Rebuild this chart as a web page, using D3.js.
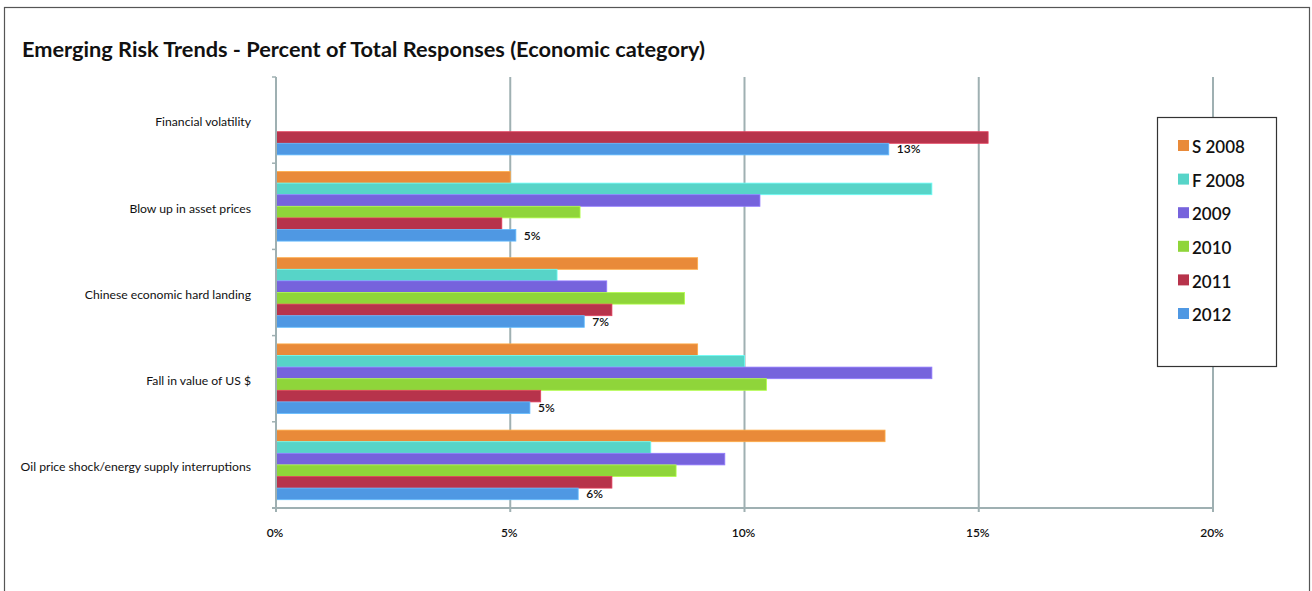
<!DOCTYPE html>
<html>
<head>
<meta charset="utf-8">
<script src="https://cdn.jsdelivr.net/npm/d3@7"></script>
<style>
  html, body { margin: 0; padding: 0; background: #fff; }
  svg { display: block; font-family: Lato, "Open Sans", sans-serif; }
</style>
</head>
<body>
<svg id="chart" width="1312" height="591"></svg>
<script>
// Risk categories, top to bottom
const categories = [
  "Financial volatility",
  "Blow up in asset prices",
  "Chinese economic hard landing",
  "Fall in value of US $",
  "Oil price shock/energy supply interruptions"
];

// Survey waves
const seriesNames = ["S 2008", "F 2008", "2009", "2010", "2011", "2012"];
const seriesColors = ["#E98A39", "#57D4C8", "#7663DC", "#8FD53A", "#B7334B", "#4F98E3"];

// Percent of total responses per wave (null = not asked that wave)
const s2008 = [null, 5.0, 9.0, 9.0, 13.0];
const f2008 = [null, 14.0, 6.0, 10.0, 8.0];
const y2009 = [null, 10.33, 7.06, 14.0, 9.58];
const y2010 = [null, 6.49, 8.72, 10.47, 8.54];
const y2011 = [15.2, 4.82, 7.17, 5.65, 7.17];
const y2012 = [13.08, 5.12, 6.58, 5.42, 6.45];

// Labels printed next to the 2012 bars
const labels2012 = ["13%", "5%", "7%", "5%", "6%"];

// Axis ticks
const xTicks = [0, 5, 10, 15, 20];
const xTickLabels = ["0%", "5%", "10%", "15%", "20%"];

const seriesValues = [s2008, f2008, y2009, y2010, y2011, y2012];

const svg = d3.select("#chart");

// Outer frame
svg.append("rect")
  .attr("x", 4.5).attr("y", 7.5)
  .attr("width", 1305).attr("height", 600)
  .attr("fill", "none").attr("stroke", "#555").attr("stroke-width", 1.2);

// Title
svg.append("text")
  .attr("x", 22).attr("y", 57)
  .attr("font-size", 20.5).attr("font-weight", 700)
  .attr("fill", "#111")
  .attr("textLength", 683).attr("lengthAdjust", "spacingAndGlyphs")
  .text("Emerging Risk Trends - Percent of Total Responses (Economic category)");

// Scales
const x = d3.scaleLinear().domain([0, 20]).range([276, 1213]);
const y0 = d3.scaleBand().domain(categories).range([77, 508]);
const bandPad = 8.3;
const y1 = d3.scaleBand().domain(seriesNames).range([bandPad, y0.bandwidth() - bandPad]);

const gridColor = "#9FB0B2";

// Vertical gridlines (behind bars)
svg.append("g").selectAll("line")
  .data(xTicks.filter(d => d > 0))
  .join("line")
  .attr("x1", d => x(d)).attr("x2", d => x(d))
  .attr("y1", 77).attr("y2", 512)
  .attr("stroke", gridColor).attr("stroke-width", 2);

// Bars
const groups = svg.append("g").selectAll("g")
  .data(categories)
  .join("g")
  .attr("transform", c => `translate(0,${y0(c)})`);

groups.selectAll("rect")
  .data((c, ci) => seriesNames.map((s, si) => ({ s, si, v: seriesValues[si][ci] }))
    .filter(d => d.v != null))
  .join("rect")
  .attr("x", x(0))
  .attr("y", d => y1(d.s))
  .attr("width", d => x(d.v) - x(0))
  .attr("height", y1.bandwidth())
  .attr("fill", d => seriesColors[d.si])
  .attr("stroke", d => d3.color(seriesColors[d.si]).brighter(0.6))
  .attr("stroke-width", 0.8);

// Value labels for the 2012 wave
groups.append("text")
  .attr("x", (c, ci) => x(y2012[ci]) + 8)
  .attr("y", y1("2012") + y1.bandwidth() / 2)
  .attr("dy", "0.36em")
  .attr("font-size", 12).attr("font-weight", 600)
  .attr("fill", "#111")
  .text((c, ci) => labels2012[ci]);

// Left axis line and category ticks
svg.append("line")
  .attr("x1", x(0)).attr("x2", x(0))
  .attr("y1", 77).attr("y2", 512)
  .attr("stroke", gridColor).attr("stroke-width", 2);

const bounds = categories.map(c => y0(c)).concat([508]);
svg.append("g").selectAll("line")
  .data(bounds)
  .join("line")
  .attr("x1", x(0) - 4).attr("x2", x(0))
  .attr("y1", d => d).attr("y2", d => d)
  .attr("stroke", gridColor).attr("stroke-width", 1.5);

// Bottom axis line
svg.append("line")
  .attr("x1", x(0) - 4).attr("x2", x(20))
  .attr("y1", 508).attr("y2", 508)
  .attr("stroke", gridColor).attr("stroke-width", 2);

// X tick labels
svg.append("g").selectAll("text")
  .data(xTicks)
  .join("text")
  .attr("x", d => x(d) - 1)
  .attr("y", 533)
  .attr("dy", "0.36em")
  .attr("text-anchor", "middle")
  .attr("font-size", 12).attr("font-weight", 600)
  .attr("fill", "#111")
  .text((d, i) => xTickLabels[i]);

// Category labels
svg.append("g").selectAll("text")
  .data(categories)
  .join("text")
  .attr("x", 251)
  .attr("y", c => y0(c) + y0.bandwidth() / 2 + 2)
  .attr("dy", "0.36em")
  .attr("text-anchor", "end")
  .attr("font-size", 12.2)
  .attr("fill", "#111")
  .text(c => c);

// Legend
const legend = svg.append("g");
legend.append("rect")
  .attr("x", 1157.5).attr("y", 117.5)
  .attr("width", 119).attr("height", 249)
  .attr("fill", "#fff").attr("stroke", "#333").attr("stroke-width", 1.2);

const items = legend.selectAll("g")
  .data(seriesNames)
  .join("g")
  .attr("transform", (d, i) => `translate(1178,${146 + i * 33.6})`);

items.append("rect")
  .attr("x", 0).attr("y", -6)
  .attr("width", 11).attr("height", 11)
  .attr("fill", (d, i) => seriesColors[i]);

items.append("text")
  .attr("x", 14).attr("y", 1)
  .attr("dy", "0.36em")
  .attr("font-size", 17).attr("font-weight", 600)
  .attr("fill", "#111")
  .text(d => d);
</script>
</body>
</html>
